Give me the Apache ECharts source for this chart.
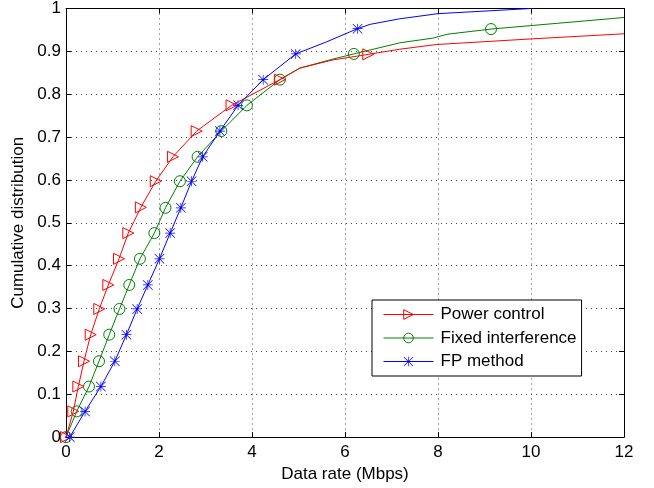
<!DOCTYPE html>
<html><head><meta charset="utf-8">
<script src="https://cdn.jsdelivr.net/npm/echarts@6/dist/echarts.min.js"></script>
<style>html,body{margin:0;padding:0;background:#fff}#c{width:654px;height:488px}</style>
</head><body><div id="c"></div><script>
// Data (x = data rate in Mbps, y = cumulative distribution); mark = 1 where a marker is drawn
const seriesNames = ['Power control', 'Fixed interference', 'FP method'];

const powerRate = [0, 0.157, 0.265, 0.387, 0.531, 0.716, 0.91, 1.14, 1.34, 1.61, 1.93, 2.30, 2.81, 3.56, 4.6, 5.03, 5.74, 6.5, 7.18, 7.97, 10, 12];
const powerCdf  = [0, 0.060, 0.118, 0.177, 0.239, 0.299, 0.355, 0.416, 0.476, 0.536, 0.597, 0.654, 0.714, 0.774, 0.834, 0.861, 0.880, 0.893, 0.905, 0.916, 0.929, 0.941];
const powerMark = [1, 1, 1, 1, 1, 1, 1, 1, 1, 1, 1, 1, 1, 1, 1, 0, 0, 1, 0, 0, 0, 0];

const fixedRate = [0, 0.23, 0.495, 0.71, 0.93, 1.15, 1.36, 1.59, 1.90, 2.14, 2.45, 2.83, 3.34, 3.89, 4.6, 5.03, 5.74, 6.19, 7.18, 7.9, 8.2, 9.14, 12];
const fixedCdf  = [0, 0.060, 0.118, 0.177, 0.239, 0.299, 0.355, 0.416, 0.476, 0.535, 0.597, 0.654, 0.714, 0.774, 0.834, 0.861, 0.882, 0.894, 0.920, 0.931, 0.940, 0.952, 0.979];
const fixedMark = [1, 1, 1, 1, 1, 1, 1, 1, 1, 1, 1, 1, 1, 1, 1, 0, 0, 1, 0, 0, 0, 1, 0];

const fpRate = [0.08, 0.41, 0.75, 1.05, 1.30, 1.53, 1.76, 2.01, 2.24, 2.47, 2.70, 2.94, 3.31, 3.70, 4.24, 4.94, 5.6, 6.27, 6.54, 7.18, 8.0, 10];
const fpCdf  = [0, 0.060, 0.118, 0.177, 0.239, 0.299, 0.355, 0.416, 0.476, 0.535, 0.597, 0.654, 0.714, 0.774, 0.834, 0.894, 0.922, 0.953, 0.963, 0.976, 0.988, 1.0];
const fpMark = [1, 1, 1, 1, 1, 1, 1, 1, 1, 1, 1, 1, 1, 1, 1, 1, 0, 1, 0, 0, 0, 0];

const xMin = 0, xMax = 12, xStep = 2;
const yMin = 0, yMax = 1, yStep = 0.1;
const xAxisTitle = 'Data rate (Mbps)';
const yAxisTitle = 'Cumulative distribution';

const STAR = 'path://M9.3 0L10.7 0L10.7 20L9.3 20Z M0 9.3L20 9.3L20 10.7L0 10.7Z M0 1L1 0L20 19L19 20Z M19 0L20 1L1 20L0 19Z';

function build(rate, cdf, mark) {
  return rate.map((x, i) => mark[i] ? [x, cdf[i]] : { value: [x, cdf[i]], symbol: 'none' });
}

const font = 'Liberation Sans, Arial, Helvetica, sans-serif';
const FS = 17;
const chart = echarts.init(document.getElementById('c'));
const tickFmt = v => (Math.round(v * 10) / 10).toString();

function axisCommon(extra) {
  return Object.assign({
    axisLine: { show: true, onZero: false, lineStyle: { color: '#000', width: 1 } },
    axisTick: { show: true, inside: true, length: 5, lineStyle: { color: '#000' } },
  }, extra);
}

chart.setOption({
  animation: false,
  backgroundColor: '#fff',
  textStyle: { fontFamily: font },
  grid: { left: 66, right: 30, top: 8, bottom: 47, containLabel: false },
  xAxis: [
    axisCommon({
      type: 'value', min: xMin, max: xMax, interval: xStep, position: 'bottom',
      name: xAxisTitle, nameLocation: 'middle', nameGap: 26,
      nameTextStyle: { color: '#000', fontSize: FS, fontFamily: font },
      axisLabel: { color: '#000', fontSize: FS, margin: 7, fontFamily: font },
      splitLine: { show: true, lineStyle: { color: '#444', type: [1, 4], width: 1 } }
    }),
    axisCommon({
      type: 'value', min: xMin, max: xMax, interval: xStep, position: 'top',
      axisLabel: { show: false }, splitLine: { show: false }
    })
  ],
  yAxis: [
    axisCommon({
      type: 'value', min: yMin, max: yMax, interval: yStep, position: 'left',
      name: yAxisTitle, nameLocation: 'middle', nameGap: 39, nameRotate: 90,
      nameTextStyle: { color: '#000', fontSize: FS, fontFamily: font },
      axisLabel: { color: '#000', fontSize: FS, margin: 5, formatter: tickFmt, fontFamily: font },
      splitLine: { show: true, lineStyle: { color: '#444', type: [1, 4], width: 1 } }
    }),
    axisCommon({
      type: 'value', min: yMin, max: yMax, interval: yStep, position: 'right',
      axisLabel: { show: false }, splitLine: { show: false }
    })
  ],
  legend: {
    left: 372, top: 300, orient: 'vertical',
    backgroundColor: '#fff', borderColor: '#000', borderWidth: 1, borderRadius: 0,
    padding: [6, 5, 6, 11], itemWidth: 50, itemHeight: 12, itemGap: 6.5,
    lineStyle: { width: 1 },
    itemStyle: { borderWidth: 1 },
    textStyle: { color: '#000', fontSize: FS, lineHeight: 17, fontFamily: font, padding: [0, 0, 0, 2] },
    data: seriesNames
  },
  series: [
    {
      name: seriesNames[0], type: 'line', data: build(powerRate, powerCdf, powerMark),
      symbol: 'triangle', symbolSize: 11, symbolRotate: -90, showAllSymbol: true,
      lineStyle: { color: '#ff0000', width: 1 },
      itemStyle: { color: 'rgba(255,255,255,0)', borderColor: '#ff0000', borderWidth: 1 },
      emphasis: { disabled: true }, z: 3
    },
    {
      name: seriesNames[1], type: 'line', data: build(fixedRate, fixedCdf, fixedMark),
      symbol: 'circle', symbolSize: 11, showAllSymbol: true,
      lineStyle: { color: '#008000', width: 1 },
      itemStyle: { color: 'rgba(255,255,255,0)', borderColor: '#008000', borderWidth: 1 },
      emphasis: { disabled: true }, z: 2
    },
    {
      name: seriesNames[2], type: 'line', data: build(fpRate, fpCdf, fpMark),
      symbol: STAR, symbolSize: 10, showAllSymbol: true,
      lineStyle: { color: '#0000ff', width: 1 },
      itemStyle: { color: '#0000ff', borderWidth: 0 },
      emphasis: { disabled: true }, z: 4
    }
  ]
});
</script></body></html>
